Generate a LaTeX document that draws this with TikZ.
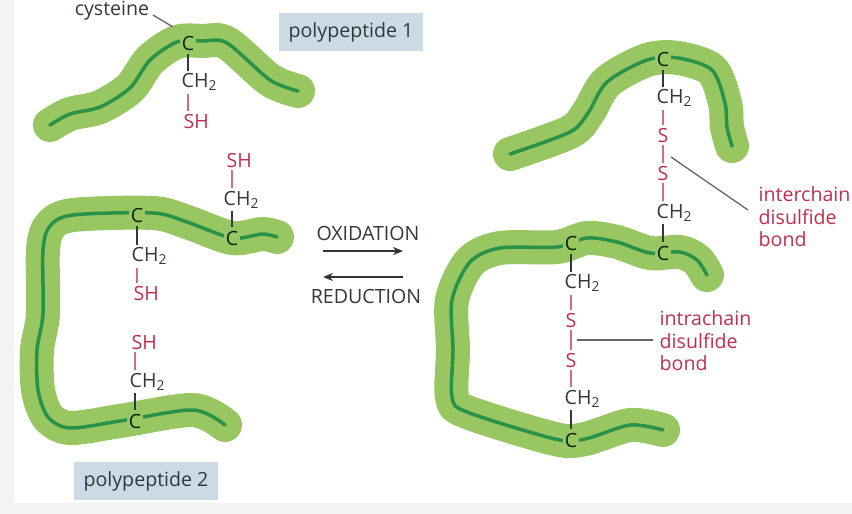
\documentclass[tikz,border=0pt]{standalone}
\usepackage{fontspec}
\setmainfont{Open Sans}
\usetikzlibrary{positioning,arrows.meta}
\definecolor{bandgreen}{HTML}{98C660}
\definecolor{coregreen}{HTML}{2A9148}
\definecolor{labelgrey}{HTML}{33383C}
\definecolor{sulfurred}{HTML}{BF2F50}
\definecolor{tagblue}{HTML}{CADBE5}
\definecolor{pagegrey}{HTML}{F4F3F1}

\begin{document}
\begin{tikzpicture}[x=1pt,y=-1pt,band/.style={line width=34pt,color=bandgreen,line cap=round,line join=round},core/.style={line width=3.5pt,color=coregreen,line cap=round,line join=round},every node/.style={font=\fontsize{19.6}{22}\selectfont,text=labelgrey,inner sep=0.5pt},carbon/.style={fill=bandgreen,inner sep=2pt,text=black!75!coregreen},atom/.style={anchor=west},sulfur/.style={text=sulfurred},sidechain/.style={anchor=west,text=sulfurred},bond/.style={line width=1.2pt,color=labelgrey,shorten >=1.5pt,shorten <=1.5pt},redbond/.style={line width=1.2pt,color=sulfurred!70,shorten >=2.5pt,shorten <=2.5pt},leader/.style={line width=1.3pt,color=black!60},tag/.style={fill=tagblue,minimum width=144pt,minimum height=38pt},note/.style={anchor=west,align=left,text=sulfurred,font=\fontsize{19.6}{22.5}\selectfont}]
\useasboundingbox (0,0) rectangle (852,514);
\fill[pagegrey] (0,0) rectangle (852,514);
\fill[white] (14,0) rectangle (852,503);
% left, polypeptide 1
\foreach \s in {band,core} \draw[\s] plot[smooth] coordinates {(50,125) (70,114) (100,107) (130,88) (150,60) (177,42) (203,41) (227,43) (270,80) (298,91)};
% left, polypeptide 2
\foreach \s in {band,core} \draw[\s] plot[smooth] coordinates {(277,237) (262,234) (232,238) (187,222) (153,213) (73,215) (50,226) (43,250) (43,314) (37,350) (38,390) (48,417) (70,428) (120,421) (193,410) (225,425)};
% right, polypeptide 1
\foreach \s in {band,core} \draw[\s] plot[smooth] coordinates {(510,154) (570,132) (588,113) (607,82) (647,60) (678,58) (712,70) (725,103) (727,127) (732,146)};
% right, polypeptide 2
\foreach \s in {band,core} \draw[\s] plot[smooth] coordinates {(707,275) (697,260) (680,252) (650,253) (617,242) (587,238) (557,247) (500,248) (470,262) (452,300) (453,350) (452,397) (467,412) (555,439) (585,439) (630,425) (663,430)};

% left side chains
\node[carbon] (ca) at (188,43) {C};
\node[atom] (cha) at (181,82) {CH\textsubscript{2}};
\node[sidechain] (sha) at (183,121) {SH};
\draw[bond] (ca.south) -- (ca.south |- cha.north);
\draw[redbond] (ca |- cha.south) -- (ca |- sha.north);

\node[carbon] (cb) at (232,238) {C};
\node[atom] (chb) at (223,200) {CH\textsubscript{2}};
\node[sidechain] (shb) at (226,160) {SH};
\draw[bond] (cb.north) -- (cb.north |- chb.south);
\draw[redbond] (cb |- chb.north) -- (cb |- shb.south);

\node[carbon] (cc) at (137,215) {C};
\node[atom] (chc) at (131,256) {CH\textsubscript{2}};
\node[sidechain] (shc) at (133,293) {SH};
\draw[bond] (cc.south) -- (cc.south |- chc.north);
\draw[redbond] (cc |- chc.south) -- (cc |- shc.north);

\node[carbon] (cd) at (135,421) {C};
\node[atom] (chd) at (129,382) {CH\textsubscript{2}};
\node[sidechain] (shd) at (131,342) {SH};
\draw[bond] (cd.north) -- (cd.north |- chd.south);
\draw[redbond] (cd |- chd.north) -- (cd |- shd.south);

% right side chains
\node[carbon] (ce) at (663,59) {C};
\node[atom] (che) at (656,98) {CH\textsubscript{2}};
\node[sulfur] (se) at (663,135) {S};
\node[sulfur] (sf) at (663,173) {S};
\node[atom] (chf) at (656,213) {CH\textsubscript{2}};
\node[carbon] (cf) at (663,253) {C};
\draw[bond] (ce.south) -- (ce.south |- che.north);
\draw[redbond] (ce |- che.south) -- (se.north);
\draw[redbond] (se.south) -- (sf.north);
\draw[redbond] (sf.south) -- (sf.south |- chf.north);
\draw[bond] (cf |- chf.south) -- (cf.north);

\node[carbon] (cg) at (571,243) {C};
\node[atom] (chg) at (564,283) {CH\textsubscript{2}};
\node[sulfur] (sg) at (571,320) {S};
\node[sulfur] (sh) at (571,360) {S};
\node[atom] (chh) at (564,399) {CH\textsubscript{2}};
\node[carbon] (ch) at (571,440) {C};
\draw[bond] (cg.south) -- (cg.south |- chg.north);
\draw[redbond] (cg |- chg.south) -- (sg.north);
\draw[redbond] (sg.south) -- (sh.north);
\draw[redbond] (sh.south) -- (sh.south |- chh.north);
\draw[bond] (ch |- chh.south) -- (ch.north);

% labels
\node (cysteine) at (112,11) {cysteine};
\coordinate (cysend) at (173,27);
\draw[leader] (153,15) -- (cysend);
\node[tag] (tagone) at (351,32) {polypeptide 1};
\node[tag] (tagtwo) at (146,481) {polypeptide 2};

\node (ox) at (368,233) {OXIDATION};
\node (red) at (366,296) {REDUCTION};
\coordinate (oxa) at (323,251);
\coordinate (oxb) at (403,251);
\coordinate (reda) at (403,277);
\coordinate (redb) at (323,277);
\draw[-{Stealth[length=10pt,width=8pt]},line width=1.5pt,color=black!80] (oxa) -- (oxb);
\draw[-{Stealth[length=10pt,width=8pt]},line width=1.5pt,color=black!80] (reda) -- (redb);

\node[note] (inter) at (758,217) {interchain\\disulfide\\bond};
\coordinate (interfrom) at (671,157);
\draw[leader] (interfrom) -- (748,210);
\node[note] (intra) at (659,341) {intrachain\\disulfide\\bond};
\coordinate (intrafrom) at (577,340);
\draw[leader] (intrafrom) -- (653,340);
\end{tikzpicture}
\end{document}
